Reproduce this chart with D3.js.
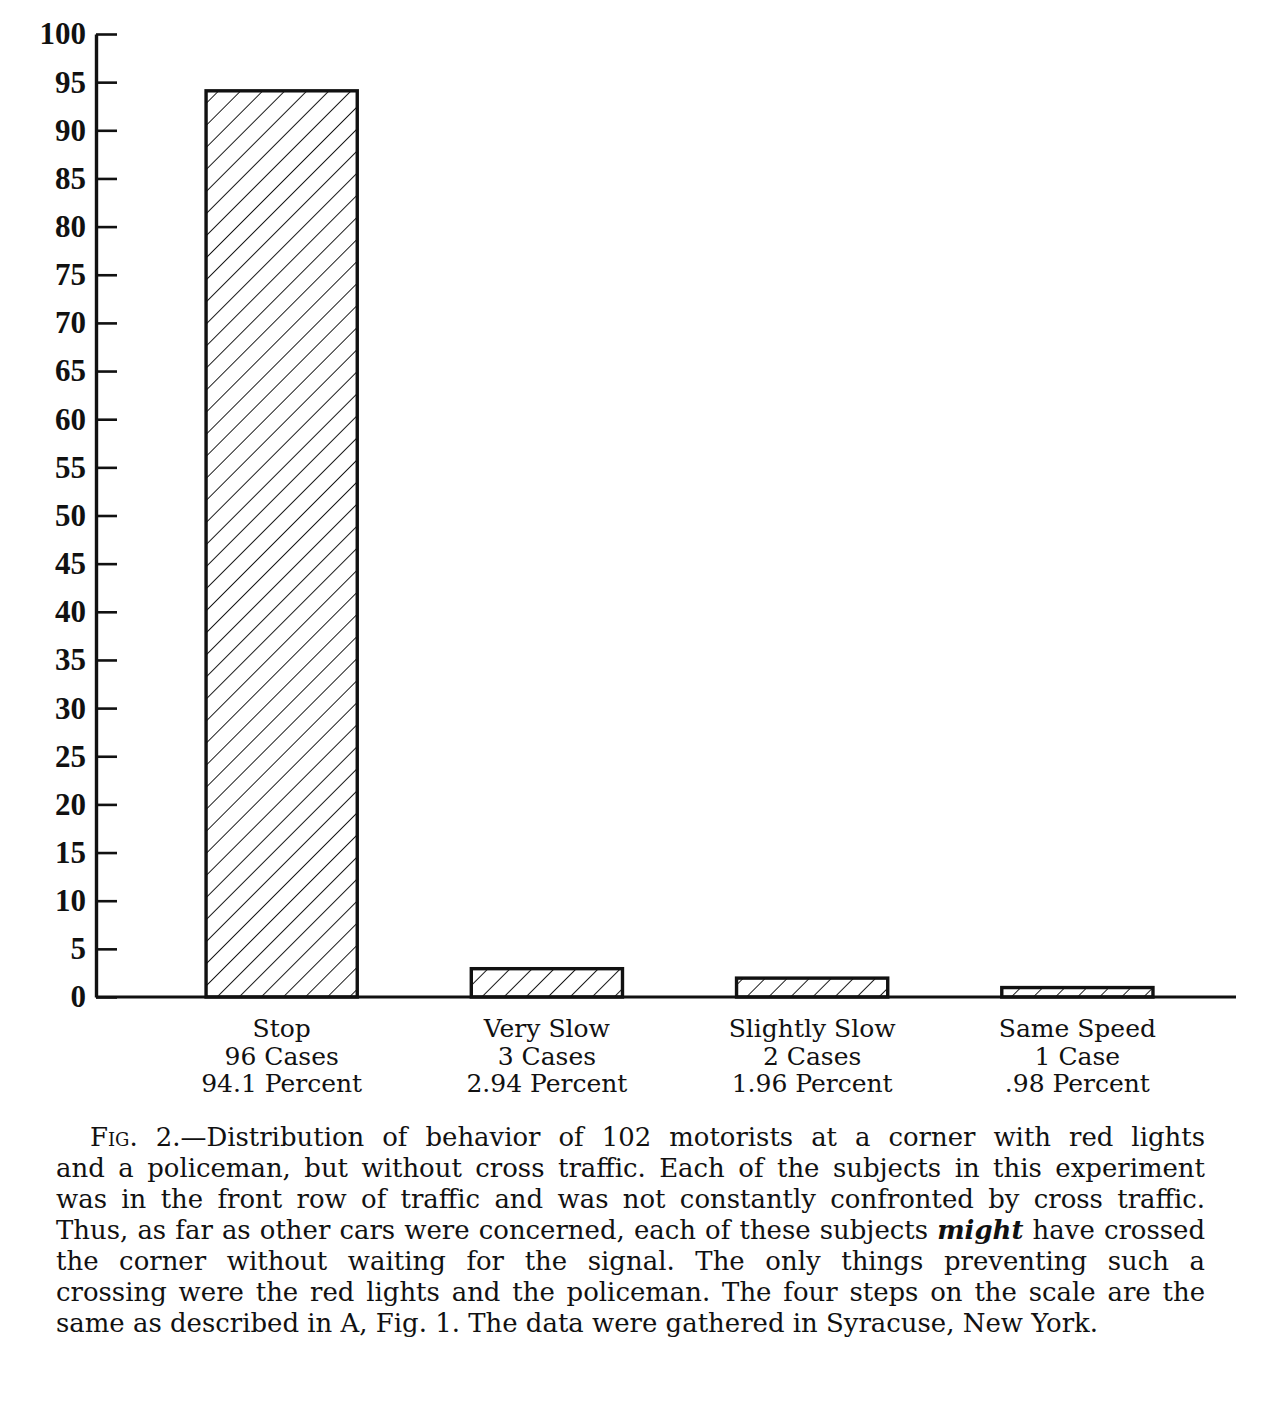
<!DOCTYPE html>
<html>
<head>
<meta charset="utf-8">
<script src="https://cdn.jsdelivr.net/npm/d3@7"></script>
<style>
  html, body { margin: 0; padding: 0; background: #fff; }
  svg { display: block; }
</style>
</head>
<body>
<svg id="chart" width="1261" height="1422"></svg>
<script>
// ---- data ----
const categories = ["Stop", "Very Slow", "Slightly Slow", "Same Speed"];
const cases = [96, 3, 2, 1];
const caseLabels = ["96 Cases", "3 Cases", "2 Cases", "1 Case"];
const percents = [94.1, 2.94, 1.96, 0.98];
const percentLabels = ["94.1 Percent", "2.94 Percent", "1.96 Percent", ".98 Percent"];
const yTicks = d3.range(0, 101, 5);
const captionLines = [
  [{t:"Fig.", sc:true}, {t:"2.—Distribution"}, "of", "behavior", "of", "102", "motorists", "at", "a", "corner", "with", "red", "lights"],
  "and a policeman, but without cross traffic. Each of the subjects in this experiment".split(" "),
  "was in the front row of traffic and was not constantly confronted by cross traffic.".split(" "),
  ["Thus,", "as", "far", "as", "other", "cars", "were", "concerned,", "each", "of", "these", "subjects", {t:"might", it:true}, "have", "crossed"],
  "the corner without waiting for the signal. The only things preventing such a".split(" "),
  "crossing were the red lights and the policeman. The four steps on the scale are the".split(" "),
  "same as described in A, Fig. 1. The data were gathered in Syracuse, New York.".split(" ")
];

const svg = d3.select("#chart");
const ink = "#111";

// ---- scales ----
const y = d3.scaleLinear().domain([0, 100]).range([997, 34]);
const x = d3.scaleBand().domain(categories).range([96, 1236])
  .paddingInner(0.43).paddingOuter(0.364).align(0.57);

// ---- hatch pattern ----
const defs = svg.append("defs");
const pat = defs.append("pattern").attr("id", "hatch")
  .attr("patternUnits", "userSpaceOnUse")
  .attr("width", 15.6).attr("height", 15.6)
  .attr("patternTransform", "rotate(45)");
pat.append("line").attr("x1", 0).attr("y1", -2).attr("x2", 0).attr("y2", 18)
  .attr("stroke", ink).attr("stroke-width", 1.9);

// ---- bars ----
svg.append("g").selectAll("rect").data(categories).join("rect")
  .attr("x", d => x(d))
  .attr("y", (d, i) => y(percents[i]))
  .attr("width", x.bandwidth())
  .attr("height", (d, i) => y(0) - y(percents[i]))
  .attr("fill", "url(#hatch)")
  .attr("stroke", ink).attr("stroke-width", 3.4);

// ---- baseline ----
svg.append("line")
  .attr("x1", x.range()[0]).attr("x2", x.range()[1])
  .attr("y1", y(0)).attr("y2", y(0))
  .attr("stroke", ink).attr("stroke-width", 3.2);

// ---- y axis ----
const yAxis = d3.axisLeft(y).tickValues(yTicks).tickSizeInner(-21).tickSizeOuter(0).tickPadding(10);
const gy = svg.append("g").attr("transform", `translate(${x.range()[0]},0)`).call(yAxis);
gy.select(".domain").attr("stroke", ink).attr("stroke-width", 3.4);
gy.selectAll(".tick line").attr("stroke", ink).attr("stroke-width", 2.6);
gy.selectAll(".tick text")
  .attr("fill", ink)
  .style("font-family", "'Liberation Serif', serif")
  .style("font-weight", "bold")
  .style("font-size", "31px");

// ---- category labels ----
const lab = svg.append("g")
  .style("font-family", "'DejaVu Serif', serif")
  .style("font-size", "25px")
  .attr("fill", ink)
  .attr("text-anchor", "middle");
categories.forEach((c, i) => {
  const cx = x(c) + x.bandwidth() / 2;
  const t = lab.append("text").attr("x", cx).attr("y", 1037);
  [c, caseLabels[i], percentLabels[i]].forEach((s, j) => {
    t.append("tspan").attr("x", cx).attr("dy", j === 0 ? 0 : 27.5).text(s);
  });
});

// ---- caption (justified) ----
const left = 56, right = 1205, indent = 90, base0 = 1146, lh = 31, lastEnd = 1167;
const cap = svg.append("g")
  .style("font-family", "'DejaVu Serif', serif")
  .attr("fill", ink);

function layoutLine(words, li, yy, justify, spaceW) {
  const x0 = li === 0 ? indent : left;
  const nodes = words.map(w => {
    const o = typeof w === "string" ? {t: w} : w;
    const el = cap.append("text").attr("y", yy).text(o.t);
    if (o.sc) el.style("font-variant", "small-caps");
    if (o.it) el.style("font-style", "italic").style("font-weight", "bold");
    return el;
  });
  const widths = nodes.map(n => n.node().getComputedTextLength());
  const total = d3.sum(widths);
  const gap = justify ? (right - x0 - total) / (nodes.length - 1) : spaceW;
  let cx = x0;
  nodes.forEach((n, k) => { n.attr("x", cx); cx += widths[k] + gap; });
  return {nodes, total, x0};
}
function spaceWidth() {
  const a = cap.append("text").text("a a"), b = cap.append("text").text("aa");
  const w = a.node().getComputedTextLength() - b.node().getComputedTextLength();
  a.remove(); b.remove();
  return w;
}
// measure at a probe size, then choose a size that lets every line fit with real word spaces
cap.style("font-size", "25px");
let sw = spaceWidth();
let fs = 27;
captionLines.forEach((words, li) => {
  const r = layoutLine(words, li, -100, false, sw);
  const nat = r.total + sw * (words.length - 1);
  const avail = (li === captionLines.length - 1 ? lastEnd : right) - r.x0;
  const f = 25 * avail / nat;
  if (li === captionLines.length - 1) fs = Math.min(fs, f); else fs = Math.min(fs, f * 0.99);
  r.nodes.forEach(n => n.remove());
});
cap.style("font-size", fs + "px");
sw = spaceWidth();
captionLines.forEach((words, li) => {
  layoutLine(words, li, base0 + li * lh, li !== captionLines.length - 1, sw);
});
</script>
</body>
</html>
